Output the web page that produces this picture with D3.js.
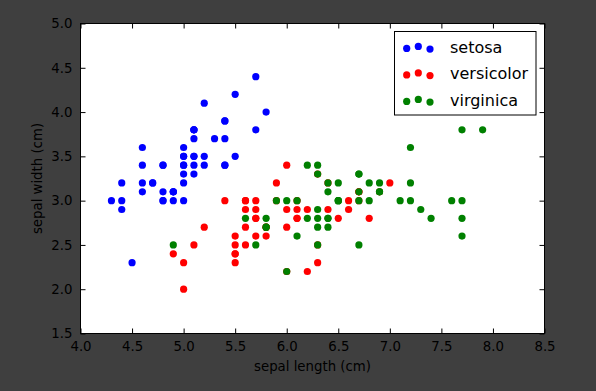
<!DOCTYPE html>
<html>
<head>
<meta charset="utf-8">
<script src="https://cdn.jsdelivr.net/npm/d3@7"></script>
<style>
html,body{margin:0;padding:0;background:#3f3f3f;}
svg{display:block;}
text{font-family:"DejaVu Sans",sans-serif;}
</style>
</head>
<body>
<script>
const species = ["setosa", "versicolor", "virginica"];
const colors = ["#0000ff", "#ff0000", "#008000"];

const setosaLength = [5.1,4.9,4.7,4.6,5.0,5.4,4.6,5.0,4.4,4.9,5.4,4.8,4.8,4.3,5.8,5.7,5.4,5.1,5.7,5.1,5.4,5.1,4.6,5.1,4.8,5.0,5.0,5.2,5.2,4.7,4.8,5.4,5.2,5.5,4.9,5.0,5.5,4.9,4.4,5.1,5.0,4.5,4.4,5.0,5.1,4.8,5.1,4.6,5.3,5.0];
const setosaWidth  = [3.5,3.0,3.2,3.1,3.6,3.9,3.4,3.4,2.9,3.1,3.7,3.4,3.0,3.0,4.0,4.4,3.9,3.5,3.8,3.8,3.4,3.7,3.6,3.3,3.4,3.0,3.4,3.5,3.4,3.2,3.1,3.4,4.1,4.2,3.1,3.2,3.5,3.1,3.0,3.4,3.5,2.3,3.2,3.5,3.8,3.0,3.8,3.2,3.7,3.3];

const versicolorLength = [7.0,6.4,6.9,5.5,6.5,5.7,6.3,4.9,6.6,5.2,5.0,5.9,6.0,6.1,5.6,6.7,5.6,5.8,6.2,5.6,5.9,6.1,6.3,6.1,6.4,6.6,6.8,6.7,6.0,5.7,5.5,5.5,5.8,6.0,5.4,6.0,6.7,6.3,5.6,5.5,5.5,6.1,5.8,5.0,5.6,5.7,5.7,6.2,5.1,5.7];
const versicolorWidth  = [3.2,3.2,3.1,2.3,2.8,2.8,3.3,2.4,2.9,2.7,2.0,3.0,2.2,2.9,2.9,3.1,3.0,2.7,2.2,2.5,3.2,2.8,2.5,2.8,2.9,3.0,2.8,3.0,2.9,2.6,2.4,2.4,2.7,2.7,3.0,3.4,3.1,2.3,3.0,2.5,2.6,3.0,2.6,2.3,2.7,3.0,2.9,2.9,2.5,2.8];

const virginicaLength = [6.3,5.8,7.1,6.3,6.5,7.6,4.9,7.3,6.7,7.2,6.5,6.4,6.8,5.7,5.8,6.4,6.5,7.7,7.7,6.0,6.9,5.6,7.7,6.3,6.7,7.2,6.2,6.1,6.4,7.2,7.4,7.9,6.4,6.3,6.1,7.7,6.3,6.4,6.0,6.9,6.7,6.9,5.8,6.8,6.7,6.7,6.3,6.5,6.2,5.9];
const virginicaWidth  = [3.3,2.7,3.0,2.9,3.0,3.0,2.5,2.9,2.5,3.6,3.2,2.7,3.0,2.5,2.8,3.2,3.0,3.8,2.6,2.2,3.2,2.8,2.8,2.7,3.3,3.2,2.8,3.0,2.8,3.0,2.8,3.8,2.8,2.8,2.6,3.0,3.4,3.1,3.0,3.1,3.1,3.1,2.7,3.2,3.3,3.0,2.5,3.0,3.4,3.0];

const xTicks = [4.0,4.5,5.0,5.5,6.0,6.5,7.0,7.5,8.0,8.5];
const yTicks = [1.5,2.0,2.5,3.0,3.5,4.0,4.5,5.0];
const xLabel = "sepal length (cm)";
const yLabel = "sepal width (cm)";

const series = [
  {name: species[0], xs: setosaLength, ys: setosaWidth, color: colors[0]},
  {name: species[1], xs: versicolorLength, ys: versicolorWidth, color: colors[1]},
  {name: species[2], xs: virginicaLength, ys: virginicaWidth, color: colors[2]}
];

const W = 596, H = 391;
const L = 80.5, R = 544.5, T = 23.5, B = 333.5;
const FS = "13.3px";

const svg = d3.select("body").append("svg").attr("width", W).attr("height", H);
svg.append("rect").attr("width", W).attr("height", H).attr("fill", "#3f3f3f");

const x = d3.scaleLinear().domain([4.0, 8.5]).range([L, R]);
const y = d3.scaleLinear().domain([1.5, 5.0]).range([B, T]);

svg.append("rect").attr("x", L).attr("y", T).attr("width", R - L).attr("height", B - T).attr("fill", "#ffffff");

// points
series.forEach(s => {
  svg.append("g").selectAll("circle").data(s.xs.map((v, i) => [v, s.ys[i]]))
    .join("circle")
    .attr("cx", d => x(d[0])).attr("cy", d => y(d[1]))
    .attr("r", 3.6).attr("fill", s.color);
});

function styleAxis(g) {
  g.select(".domain").remove();
  g.selectAll(".tick line").attr("stroke", "#000").attr("stroke-width", 1);
  g.selectAll(".tick text").attr("fill", "#000").style("font-size", FS).style("font-family", "DejaVu Sans");
}

const fmt = d3.format(".1f");
svg.append("g").attr("transform", `translate(0,${B})`)
  .call(d3.axisBottom(x).tickValues(xTicks).tickFormat(fmt).tickSizeInner(-5).tickSizeOuter(0).tickPadding(7.8))
  .call(styleAxis);
svg.append("g").attr("transform", `translate(0,${T})`)
  .call(d3.axisTop(x).tickValues(xTicks).tickFormat("").tickSizeInner(-5).tickSizeOuter(0))
  .call(styleAxis);
svg.append("g").attr("transform", `translate(${L},0)`)
  .call(d3.axisLeft(y).tickValues(yTicks).tickFormat(fmt).tickSizeInner(-5).tickSizeOuter(0).tickPadding(8))
  .call(styleAxis);
svg.append("g").attr("transform", `translate(${R},0)`)
  .call(d3.axisRight(y).tickValues(yTicks).tickFormat("").tickSizeInner(-5).tickSizeOuter(0))
  .call(styleAxis);

// frame
svg.append("rect").attr("x", L).attr("y", T).attr("width", R - L).attr("height", B - T)
  .attr("fill", "none").attr("stroke", "#000").attr("stroke-width", 1);

// axis labels
svg.append("text").attr("x", (L + R) / 2).attr("y", 371).attr("text-anchor", "middle")
  .style("font-size", FS).attr("fill", "#000").text(xLabel);
svg.append("text").attr("transform", `translate(42,${(T + B) / 2}) rotate(-90)`).attr("text-anchor", "middle")
  .style("font-size", FS).attr("fill", "#000").text(yLabel);

// legend
const lg = svg.append("g");
lg.append("rect").attr("x", 394.5).attr("y", 31.5).attr("width", 141.5).attr("height", 83.5)
  .attr("fill", "#fff").attr("stroke", "#000").attr("stroke-width", 1);
const offs = [0.9, -1.1, 1.6];
const mx = [406.7, 418.3, 430];
series.forEach((s, i) => {
  const cy = 47.5 + i * 26.5;
  offs.forEach((o, j) => {
    lg.append("circle").attr("cx", mx[j]).attr("cy", cy + o).attr("r", 3.6).attr("fill", s.color);
  });
  lg.append("text").attr("x", 450).attr("y", cy + 5.2).style("font-size", "16px").attr("fill", "#000").text(s.name);
});
</script>
</body>
</html>
